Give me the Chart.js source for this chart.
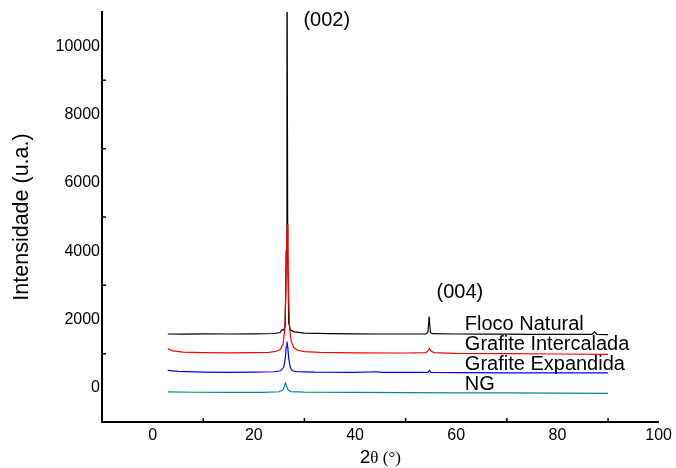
<!DOCTYPE html>
<html>
<head>
<meta charset="utf-8">
<script src="https://cdn.jsdelivr.net/npm/chart.js@4/dist/chart.umd.min.js"></script>
<style>
  html, body { margin: 0; padding: 0; background: #fff; }
</style>
</head>
<body>
<canvas id="xrd" width="676" height="468"></canvas>
<script>
/* DATA: [2theta, intensity] */
const seriesNames = ["NG", "Grafite Expandida", "Grafite Intercalada", "Floco Natural"];

const ngPoints = [
  [3, -120], [8, -130], [15, -130], [22, -130], [25, -115], [25.8, -60], [26.05, 60],
  [26.25, 140], [26.45, 60], [26.75, -60], [27.3, -110], [30, -125], [40, -130],
  [50, -140], [60, -145], [70, -150], [80, -155], [90, -160]
];

const expandidaPoints = [
  [3, 510], [5, 480], [10, 460], [15, 455], [20, 460], [24, 470], [25.3, 500],
  [25.9, 600], [26.2, 850], [26.4, 1200], [26.55, 1350], [26.7, 1200], [26.9, 850],
  [27.2, 600], [27.6, 500], [28.5, 475], [32, 460], [40, 455], [44.5, 470], [45, 455],
  [50, 450], [54.4, 455], [54.7, 510], [55, 455], [60, 445], [70, 440], [80, 440], [90, 435]
];

const intercaladaPoints = [
  [3, 1140], [4, 1080], [6, 1045], [10, 1030], [15, 1025], [20, 1030], [23, 1040],
  [24.5, 1070], [25.3, 1130], [25.8, 1300], [26.1, 1700], [26.3, 2600], [26.45, 4000],
  [26.6, 4780], [26.75, 3900], [26.9, 2500], [27.1, 1700], [27.4, 1350], [27.9, 1180],
  [28.6, 1100], [30, 1060], [33, 1040], [40, 1025], [50, 1020], [54, 1030], [54.4, 1080],
  [54.7, 1150], [55, 1080], [55.6, 1030], [60, 1010], [70, 1000], [80, 990], [90, 980]
];

const flocoPoints = [
  [3, 1575], [6, 1570], [10, 1580], [15, 1575], [20, 1580], [24, 1590], [25.2, 1620],
  [25.6, 1700], [25.9, 1690], [26.2, 1800], [26.4, 4000], [26.55, 14000], [26.7, 4000],
  [26.9, 1900], [27.2, 1700], [28, 1640], [30, 1600], [35, 1585], [40, 1580], [45, 1575],
  [50, 1575], [54, 1580], [54.4, 1620], [54.65, 2090], [54.9, 1620], [55.3, 1585],
  [60, 1575], [65, 1570], [70, 1570], [75, 1565], [80, 1565], [86.8, 1565], [87.3, 1640],
  [87.8, 1565], [90, 1560]
];

const xTicks = { min: -10, max: 100, step: 10, labelEvery: 20 };
const yTicks = { min: -1000, max: 11000, step: 1000, labelEvery: 2000 };

/* text placed on the plot, in data coordinates */
const notes = [
  { text: "(002)", x: 29.8, y: 10600 },
  { text: "(004)", x: 56.1, y: 2630 },
  { text: "Floco Natural", x: 61.7, y: 1700 },
  { text: "Grafite Intercalada", x: 61.7, y: 1114 },
  { text: "Grafite Expandida", x: 61.7, y: 528 },
  { text: "NG", x: 61.7, y: -59 }
];

const colors = ["#008b8b", "#0000ff", "#ff0000", "#000000"];
const allPoints = [ngPoints, expandidaPoints, intercaladaPoints, flocoPoints];

const SANS = "'Liberation Sans', Arial, sans-serif";
const SERIF = "'Liberation Serif', 'Times New Roman', serif";

const extras = {
  id: "extras",
  afterDraw(chart) {
    const { ctx, chartArea: a, scales: { x, y } } = chart;
    ctx.save();

    // inward tick marks on the unlabelled steps
    ctx.strokeStyle = "#000";
    ctx.lineWidth = 1.5;
    ctx.beginPath();
    x.ticks.forEach(t => {
      if (t.value % xTicks.labelEvery === 0 || t.value <= x.min || t.value >= x.max) return;
      const px = x.getPixelForValue(t.value);
      ctx.moveTo(px, a.bottom);
      ctx.lineTo(px, a.bottom - 4);
    });
    y.ticks.forEach(t => {
      if (t.value % yTicks.labelEvery === 0 || t.value <= y.min || t.value >= y.max) return;
      const py = y.getPixelForValue(t.value);
      ctx.moveTo(a.left, py);
      ctx.lineTo(a.left + 4, py);
    });
    ctx.stroke();

    // annotations
    ctx.fillStyle = "#000";
    ctx.font = "20px " + SANS;
    ctx.textAlign = "left";
    ctx.textBaseline = "alphabetic";
    notes.forEach(n => ctx.fillText(n.text, x.getPixelForValue(n.x), y.getPixelForValue(n.y)));

    // x title: 2θ (°)
    const cx = (a.left + a.right) / 2;
    const base = a.bottom + 41;
    ctx.font = "19px " + SANS;
    const w1 = ctx.measureText("2").width;
    ctx.font = "17px " + SERIF;
    const w2 = ctx.measureText("θ (°)").width;
    const sx = cx - (w1 + w2) / 2;
    ctx.font = "19px " + SANS;
    ctx.fillText("2", sx, base);
    ctx.font = "17px " + SERIF;
    ctx.fillText("θ (°)", sx + w1, base);

    // y title
    ctx.translate(22, (a.top + a.bottom) / 2);
    ctx.rotate(-Math.PI / 2);
    ctx.font = "21.5px " + SANS;
    ctx.textAlign = "center";
    ctx.textBaseline = "middle";
    ctx.fillText("Intensidade (u.a.)", 0, 0);
    ctx.restore();
  }
};

new Chart(document.getElementById("xrd"), {
  type: "line",
  data: {
    datasets: seriesNames.map((name, i) => ({
      label: name,
      data: allPoints[i].map(p => ({ x: p[0], y: p[1] })),
      borderColor: colors[i],
      borderWidth: 1.2,
      pointRadius: 0,
      tension: 0,
      fill: false
    }))
  },
  options: {
    responsive: false,
    animation: false,
    layout: { padding: { top: 12, right: 16, left: 0, bottom: 0 } },
    plugins: { legend: { display: false }, tooltip: { enabled: false } },
    scales: {
      x: {
        type: "linear",
        min: xTicks.min,
        max: xTicks.max,
        grid: { display: false, drawTicks: false },
        border: { display: true, color: "#000", width: 2 },
        ticks: {
          stepSize: xTicks.step,
          autoSkip: false,
          maxRotation: 0,
          padding: 4,
          color: "#000",
          font: { family: SANS, size: 16 },
          callback: v => (v >= 0 && v % xTicks.labelEvery === 0 ? String(v) : "")
        },
        afterFit: s => { s.height = 46; }
      },
      y: {
        type: "linear",
        min: yTicks.min,
        max: yTicks.max,
        grid: { display: false, drawTicks: false },
        border: { display: true, color: "#000", width: 2 },
        ticks: {
          stepSize: yTicks.step,
          autoSkip: false,
          padding: 2,
          color: "#000",
          font: { family: SANS, size: 16 },
          callback: v => (v >= 0 && v % yTicks.labelEvery === 0 && v <= 10000 ? String(v) : "")
        },
        afterFit: s => { s.width = 102; }
      }
    }
  },
  plugins: [extras]
});
</script>
</body>
</html>
